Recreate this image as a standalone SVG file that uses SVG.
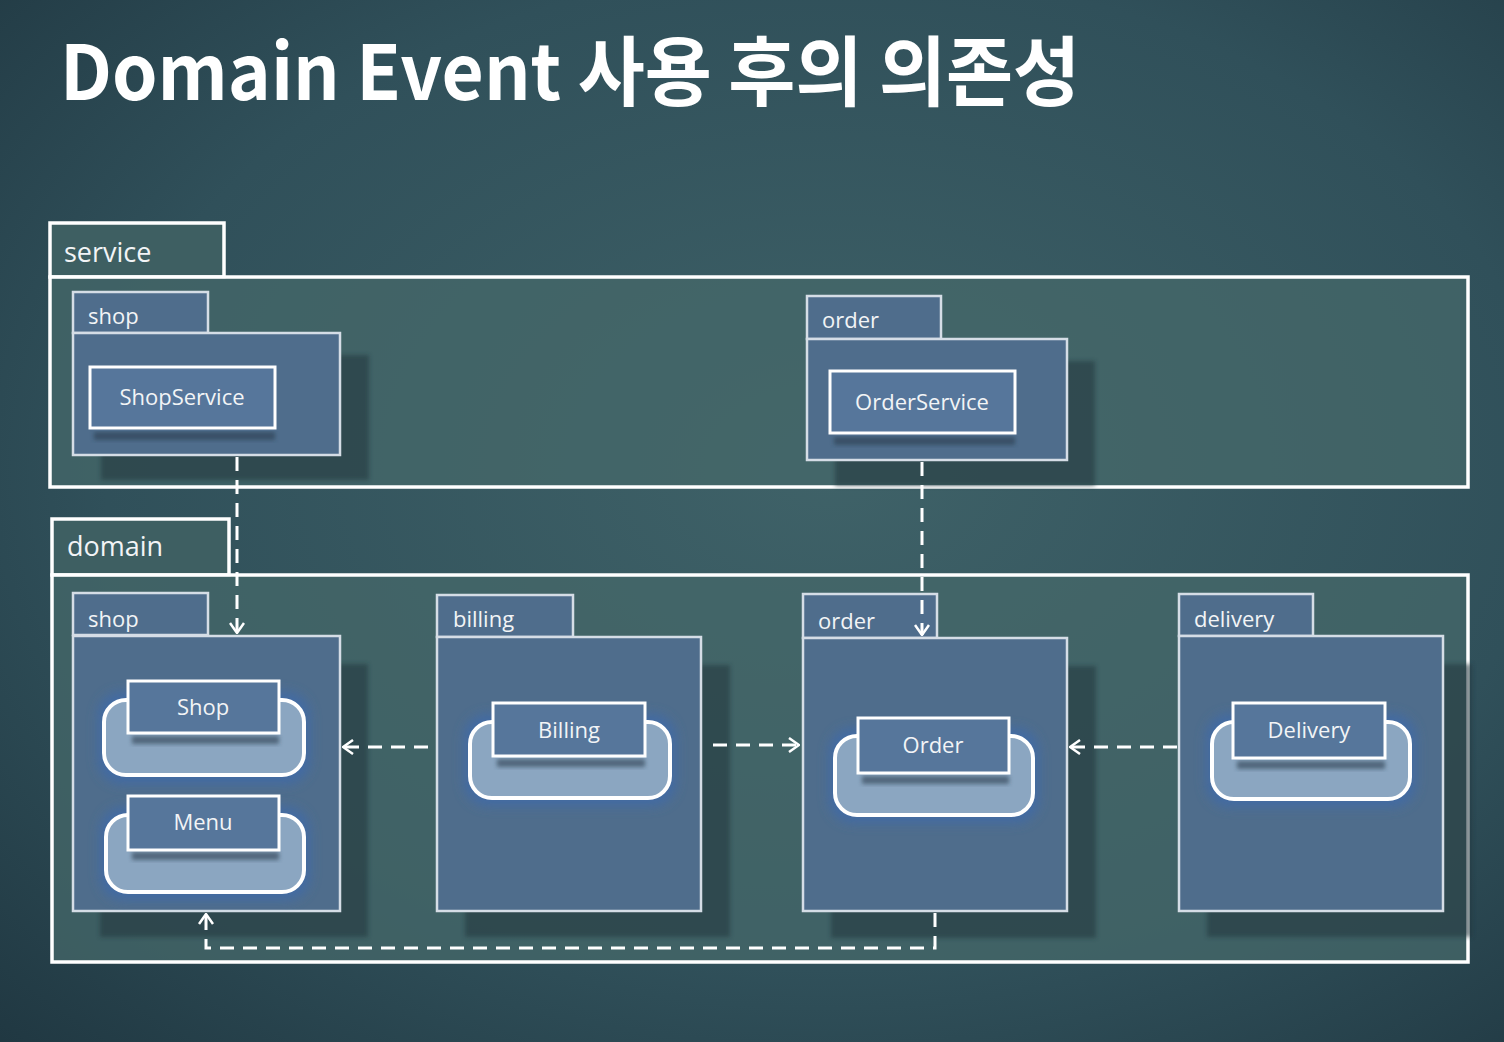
<svg xmlns="http://www.w3.org/2000/svg" width="1504" height="1042" viewBox="0 0 1504 1042">
<defs>
<radialGradient id="bg" cx="0.55" cy="0.45" r="0.8">
<stop offset="0" stop-color="#3f6268"/>
<stop offset="0.6" stop-color="#30505a"/>
<stop offset="1" stop-color="#1f3640"/>
</radialGradient>
<filter id="glow" x="-20%" y="-30%" width="140%" height="160%">
<feGaussianBlur stdDeviation="6"/>
</filter>
<filter id="sh" x="-10%" y="-10%" width="130%" height="140%">
<feGaussianBlur stdDeviation="2"/>
</filter>
<marker id="open" viewBox="0 0 12 16" refX="11" refY="8" markerWidth="12" markerHeight="16" markerUnits="userSpaceOnUse" orient="auto">
<path d="M1,1 L11,8 L1,15" fill="none" stroke="#fff" stroke-width="2.5"/>
</marker>
<style>
.frame{fill:#45686a;fill-opacity:0.75;stroke:#fff;stroke-width:3.5}
.ftab{fill:#3e5f62;stroke:#fff;stroke-width:3.5}
.pkg{fill:#4f6d8c;stroke:#d5dde6;stroke-width:2.5}
.shadow{fill:#22363c;opacity:0.55}
.cls{fill:#56769b;stroke:#fff;stroke-width:3}
.bub{fill:#8ba6c1;stroke:#fff;stroke-width:4}
.bglow{fill:#3f6aa8;opacity:0.85}
.clsh{fill:#2a3c4e;opacity:0.6}
.t{font-family:"Open Sans","Noto Sans",sans-serif;fill:#f2f4f6}
.ft{font-size:27px}
.pt{font-size:22px}
.ct{font-size:22px;text-anchor:middle}
.dash{fill:none;stroke:#fff;stroke-width:3;stroke-dasharray:14 9}
</style>
</defs>
<rect width="1504" height="1042" fill="url(#bg)"/>

<text x="60" y="100" font-family="'Noto Sans CJK KR','Noto Sans',sans-serif" font-weight="bold" font-size="76" fill="#fff" textLength="1020" lengthAdjust="spacingAndGlyphs">Domain Event 사용 후의 의존성</text>

<g id="service">
<rect class="ftab" x="50" y="223" width="174" height="54"/>
<rect class="frame" x="50" y="277" width="1418" height="210"/>
<text class="t ft" x="64" y="262">service</text>
</g>

<g id="domain">
<rect class="ftab" x="52" y="519" width="177" height="56"/>
<rect class="frame" x="52" y="575" width="1416" height="387"/>
<text class="t ft" x="67" y="556">domain</text>
</g>

<g id="svc-shop">
<rect class="shadow" x="101" y="355" width="268" height="125" filter="url(#sh)"/>
<rect class="pkg" x="73" y="292" width="135" height="41"/>
<rect class="pkg" x="73" y="333" width="267" height="122"/>
<text class="t pt" x="88" y="324">shop</text>
</g>
<g id="ShopService">
<rect class="clsh" x="94" y="432" width="181" height="8" filter="url(#sh)"/>
<rect class="cls" x="90" y="367" width="185" height="61"/>
<text class="t ct" x="182" y="405">ShopService</text>
</g>

<g id="svc-order">
<rect class="shadow" x="835" y="361" width="260" height="125" filter="url(#sh)"/>
<rect class="pkg" x="807" y="296" width="134" height="43"/>
<rect class="pkg" x="807" y="339" width="260" height="121"/>
<text class="t pt" x="822" y="328">order</text>
</g>
<g id="OrderService">
<rect class="clsh" x="834" y="437" width="181" height="8" filter="url(#sh)"/>
<rect class="cls" x="830" y="371" width="185" height="62"/>
<text class="t ct" x="922" y="410">OrderService</text>
</g>

<g id="dom-shop">
<rect class="shadow" x="100" y="664" width="268" height="273" filter="url(#sh)"/>
<rect class="pkg" x="73" y="593" width="135" height="42"/>
<rect class="pkg" x="73" y="636" width="267" height="275"/>
<text class="t pt" x="88" y="627">shop</text>
</g>
<g id="Shop">
<rect class="bglow" x="98" y="692" width="212" height="92" rx="24" filter="url(#glow)"/>
<rect class="bub" x="104" y="700" width="200" height="75" rx="22"/>
<rect class="clsh" x="132" y="736" width="147" height="8" filter="url(#sh)"/>
<rect class="cls" x="128" y="681" width="151" height="52"/>
<text class="t ct" x="203" y="715">Shop</text>
</g>
<g id="Menu">
<rect class="bglow" x="100" y="807" width="210" height="93" rx="24" filter="url(#glow)"/>
<rect class="bub" x="106" y="815" width="198" height="77" rx="22"/>
<rect class="clsh" x="132" y="852" width="147" height="8" filter="url(#sh)"/>
<rect class="cls" x="128" y="796" width="151" height="54"/>
<text class="t ct" x="203" y="830">Menu</text>
</g>

<g id="dom-billing">
<rect class="shadow" x="465" y="665" width="265" height="272" filter="url(#sh)"/>
<rect class="pkg" x="437" y="595" width="136" height="42"/>
<rect class="pkg" x="437" y="637" width="264" height="274"/>
<text class="t pt" x="453" y="627">billing</text>
</g>
<g id="Billing">
<rect class="bglow" x="464" y="714" width="212" height="92" rx="24" filter="url(#glow)"/>
<rect class="bub" x="470" y="722" width="200" height="76" rx="22"/>
<rect class="clsh" x="497" y="759" width="148" height="8" filter="url(#sh)"/>
<rect class="cls" x="493" y="703" width="152" height="53"/>
<text class="t ct" x="569" y="738">Billing</text>
</g>

<g id="dom-order">
<rect class="shadow" x="831" y="666" width="265" height="272" filter="url(#sh)"/>
<rect class="pkg" x="803" y="594" width="134" height="44"/>
<rect class="pkg" x="803" y="638" width="264" height="273"/>
<text class="t pt" x="818" y="629">order</text>
</g>
<g id="Order">
<rect class="bglow" x="829" y="728" width="210" height="95" rx="24" filter="url(#glow)"/>
<rect class="bub" x="835" y="736" width="198" height="79" rx="22"/>
<rect class="clsh" x="862" y="776" width="147" height="8" filter="url(#sh)"/>
<rect class="cls" x="858" y="718" width="151" height="55"/>
<text class="t ct" x="933" y="753">Order</text>
</g>

<g id="dom-delivery">
<rect class="shadow" x="1207" y="664" width="265" height="273" filter="url(#sh)"/>
<rect class="pkg" x="1179" y="594" width="134" height="42"/>
<rect class="pkg" x="1179" y="636" width="264" height="275"/>
<text class="t pt" x="1194" y="627">delivery</text>
</g>
<g id="Delivery">
<rect class="bglow" x="1206" y="714" width="210" height="93" rx="24" filter="url(#glow)"/>
<rect class="bub" x="1212" y="722" width="198" height="77" rx="22"/>
<rect class="clsh" x="1237" y="761" width="148" height="8" filter="url(#sh)"/>
<rect class="cls" x="1233" y="703" width="152" height="55"/>
<text class="t ct" x="1309" y="738">Delivery</text>
</g>

<g id="connectors">
<path class="dash" d="M237,457 L237,633" marker-end="url(#open)"/>
<path class="dash" d="M922,462 L922,635" marker-end="url(#open)"/>
<path class="dash" d="M428,747 L343,747" marker-end="url(#open)"/>
<path class="dash" d="M713,745 L799,745" marker-end="url(#open)"/>
<path class="dash" d="M1177,747 L1070,747" marker-end="url(#open)"/>
<path class="dash" d="M935,913 L935,948 L206,948 L206,914" marker-end="url(#open)"/>
</g>
</svg>
